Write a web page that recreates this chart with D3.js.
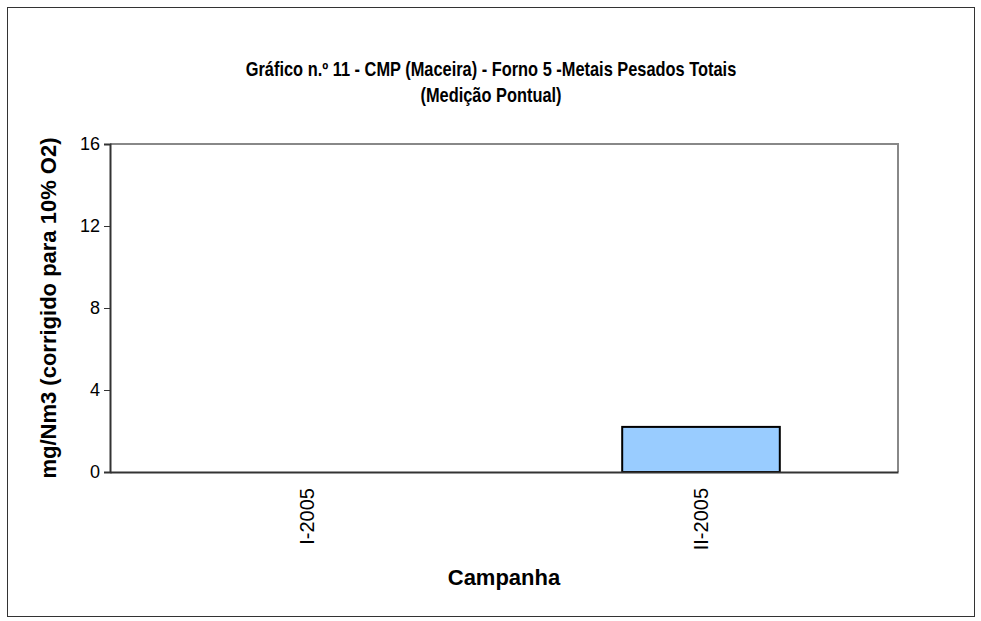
<!DOCTYPE html>
<html>
<head>
<meta charset="utf-8">
<script src="https://cdn.jsdelivr.net/npm/d3@7"></script>
<style>
  body { margin: 0; background: #fff; }
  text { font-family: "Liberation Sans", Arial, sans-serif; }
</style>
</head>
<body>
<div id="chart"></div>
<script>
const categories = ["I-2005", "II-2005"]
const values = [0, 2.2]
const yTicks = [0, 4, 8, 12, 16]
const titleLines = ["Gráfico n.º 11 - CMP (Maceira) - Forno 5 -Metais Pesados Totais", "(Medição Pontual)"]
const yTitle = "mg/Nm3 (corrigido para 10% O2)"
const xTitle = "Campanha"

const width = 981
const height = 621
const margin = ({top: 144, right: 83, bottom: 149, left: 110})

const svg = d3.select("#chart").append("svg").attr("width", width).attr("height", height)

// outer frame
svg.append("rect")
  .attr("x", 7.5).attr("y", 7.5)
  .attr("width", 967).attr("height", 609)
  .attr("fill", "#fff")
  .attr("stroke", "#333")

const xscale = d3.scaleBand()
  .domain(categories)
  .range([margin.left, width - margin.right])
  .paddingInner(0.6)
  .paddingOuter(0.3)

const yscale = d3.scaleLinear()
  .domain([0, 16])
  .range([height - margin.bottom, margin.top])

// plot area top/right border (grey)
svg.append("path")
  .attr("d", `M${margin.left},${margin.top}H${width - margin.right}V${height - margin.bottom}`)
  .attr("fill", "none")
  .attr("stroke", "#888")
  .attr("stroke-width", 2)

// bars
svg.append("g")
  .selectAll("rect")
  .data(values)
  .join("rect")
  .attr("x", (d, i) => xscale(categories[i]))
  .attr("y", d => yscale(d))
  .attr("width", xscale.bandwidth())
  .attr("height", d => yscale(0) - yscale(d))
  .attr("fill", "#99ccff")
  .attr("stroke", "#000")
  .attr("stroke-width", 2)

// y axis
const yAxis = svg.append("g")
  .attr("transform", `translate(${margin.left},0)`)
  .call(d3.axisLeft(yscale).tickValues(yTicks).tickSize(6).tickPadding(4))
yAxis.select(".domain").attr("stroke", "#333").attr("stroke-width", 2)
yAxis.selectAll(".tick line").attr("stroke", "#333")
yAxis.selectAll(".tick text").attr("font-size", 18).attr("fill", "#000")
  .style("font-family", "'Liberation Sans', Arial, sans-serif")

// x axis
const xAxis = svg.append("g")
  .attr("transform", `translate(0,${height - margin.bottom})`)
  .call(d3.axisBottom(xscale).tickSize(0).tickSizeOuter(0))
xAxis.select(".domain").attr("stroke", "#333").attr("stroke-width", 2)
xAxis.selectAll(".tick text")
  .attr("font-size", 20)
  .attr("fill", "#000")
  .style("font-family", "'Liberation Sans', Arial, sans-serif")
  .attr("transform", "rotate(-90)")
  .attr("text-anchor", "end")
  .attr("x", -16)
  .attr("y", 0)
  .attr("dy", "0.35em")

// chart title (narrow bold look)
svg.append("g")
  .selectAll("text")
  .data(titleLines)
  .join("text")
  .attr("transform", (d, i) => `translate(491,${76 + i * 26}) scale(0.82,1)`)
  .attr("text-anchor", "middle")
  .attr("font-size", 20)
  .attr("font-weight", "bold")
  .text(d => d)

svg.append("text")
  .attr("transform", `translate(56,${(margin.top + height - margin.bottom) / 2}) rotate(-90)`)
  .attr("text-anchor", "middle")
  .attr("font-size", 22)
  .attr("font-weight", "bold")
  .text(yTitle)

svg.append("text")
  .attr("x", (margin.left + width - margin.right) / 2)
  .attr("y", 585)
  .attr("text-anchor", "middle")
  .attr("font-size", 22)
  .attr("font-weight", "bold")
  .text(xTitle)
</script>
</body>
</html>
